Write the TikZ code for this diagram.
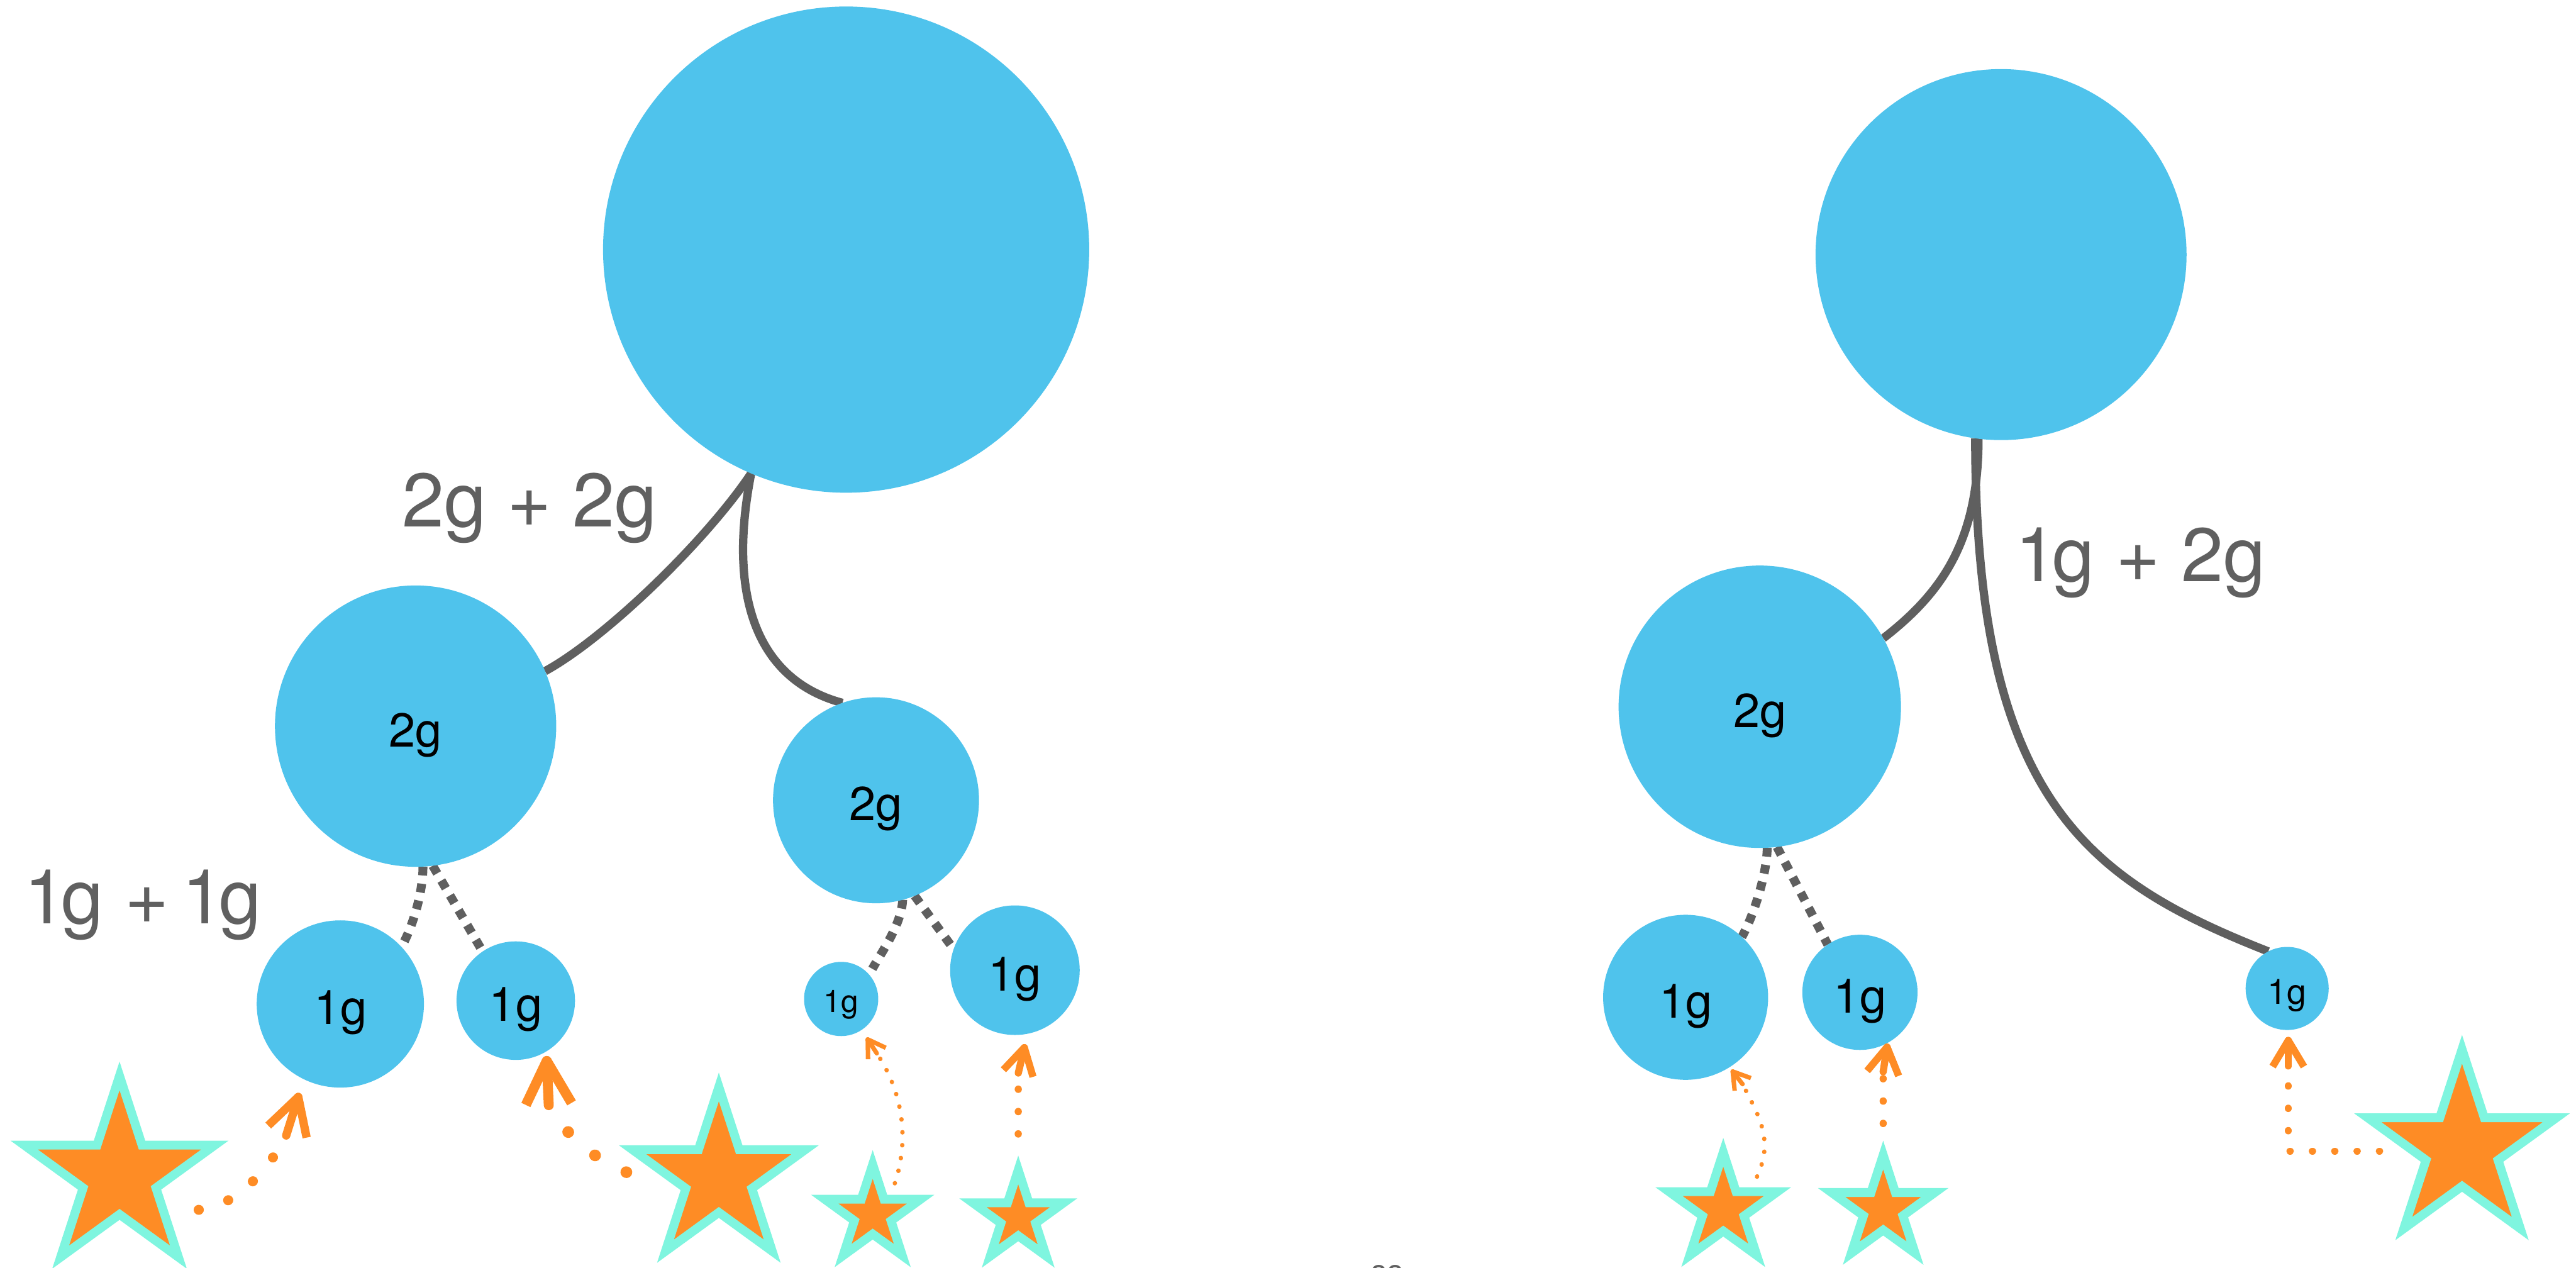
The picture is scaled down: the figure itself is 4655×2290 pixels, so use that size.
\documentclass[tikz,border=0pt]{standalone}
\usepackage{fontspec}
\setmainfont{TeX Gyre Heros}
\usetikzlibrary{shapes.geometric,calc,backgrounds}
\definecolor{ballblue}{HTML}{4FC3EC}
\definecolor{starfill}{HTML}{FE8C25}
\definecolor{starline}{HTML}{7FF5DF}
\definecolor{linegrey}{HTML}{5F5F5F}
\definecolor{labgrey}{HTML}{606060}
\pgfdeclarelayer{bg}
\pgfsetlayers{bg,background,main}
% #1 tip coordinate, #2 direction of travel (page angle, y down), #3 arm length,
% #4 half opening angle, #5 stem length, #6 line width
\newcommand\vtip[6]{%
  \draw[draw=starfill, line width=#6, line join=round, line cap=butt]
    ($(#1)+(#2+180-#4:#3)$) -- (#1) -- ($(#1)+(#2+180+#4:#3)$);
  \draw[draw=starfill, line width=#6, line cap=round] (#1) -- ($(#1)+(#2+180:#5)$);
}
\newcommand\oneg{1\kern-0.065em g}
\begin{document}
\begin{tikzpicture}[x=0.01cm,y=-0.01cm,
  ball/.style={circle, fill=ballblue, inner sep=0pt, outer sep=0pt, text=black,
    font=\fontsize{24.5pt}{29pt}\selectfont, text height=0.74cm, text depth=0pt},
  smallL/.style={ball, font=\fontsize{16pt}{19pt}\selectfont, text height=0.48cm},
  smallR/.style={ball, font=\fontsize{18pt}{21pt}\selectfont, text height=0.56cm},
  starsty/.style={star, star points=5, star point ratio=2.618, fill=starfill,
    draw=starline, line width=0.16cm, inner sep=0pt, outer sep=0pt},
  tree/.style={draw=linegrey, line width=0.15cm},
  treedot/.style={draw=linegrey, line width=0.16cm, dash pattern=on 0.16cm off 0.15cm},
  orangedots/.style 2 args={draw=starfill, line width=#1, line cap=round,
    dash pattern=on 0.1pt off #2},
  lbl/.style={text=labgrey, font=\fontsize{39pt}{47pt}\selectfont, inner sep=0pt, anchor=base}
]
\useasboundingbox (0,0) rectangle (4655,2290);
\begin{pgfonlayer}{bg}
  \fill[white] (0,0) rectangle (4655,2290);
\end{pgfonlayer}

% ---------- circles ----------
\node[ball, minimum size=8.78cm] (bigL) at (1529,451) {};
\node[ball, minimum size=5.08cm] (c2L) at (751,1312) {2g};
\node[ball, minimum size=3.72cm] (c2R) at (1583,1446) {2g};
\node[ball, minimum size=3.02cm] (c1a) at (615,1814) {1g};
\node[ball, minimum size=2.14cm] (c1b) at (932,1808) {1g};
\node[smallL, minimum size=1.34cm] (c1c) at (1520,1805) {1g};
\node[ball, minimum size=2.34cm] (c1d) at (1834,1753) {1g};
\node[ball, minimum size=6.70cm] (bigR) at (3616,460) {};
\node[ball, minimum size=5.10cm] (c2G) at (3180,1277) {2g};
\node[ball, minimum size=2.98cm] (c1e) at (3046,1802) {1g};
\node[ball, minimum size=2.08cm] (c1f) at (3361,1793) {1g};
\node[smallR, minimum size=1.50cm] (c1g) at (4133,1786) {1g};

% ---------- stars ----------
\node[starsty, minimum size=3.62cm] (s1) at (216,2125) {};
\node[starsty, minimum size=3.28cm] (s2) at (1299,2128) {};
\node[starsty, minimum size=1.82cm] (s3) at (1577,2195) {};
\node[starsty, minimum size=1.72cm] (s4) at (1840,2200) {};
\node[starsty, minimum size=2.06cm] (s5) at (3114,2185) {};
\node[starsty, minimum size=1.96cm] (s6) at (3403,2185) {};
\node[starsty, minimum size=3.58cm] (s7) at (4449,2075) {};

% ---------- labels ----------
\node[lbl] (l22) at (957,952) {2g + 2g};
\node[lbl] (l11) at (258,1669) {\oneg{} +\kern-0.11em{} \oneg};
\node[lbl] (l12) at (3868,1051) {\oneg{} + 2g};
\node[anchor=base, text=labgrey, font=\fontsize{15.6pt}{18pt}\selectfont, inner sep=0pt] (frag) at (2507,2316) {oo};

% ---------- grey tree connectors ----------
\begin{scope}[on background layer]
  \draw[tree] (bigL.247) .. controls +(-80,120) and +(110,-60) .. (c2L.23);
  \draw[tree] (bigL.247) .. controls +(-45,230) and +(-150,-40) .. (c2R.109);
  \draw[tree] (bigR.263) .. controls +(0,180) and +(110,-85) .. (c2G.29);
  \draw[tree] (bigR.262) .. controls +(0,650) and +(-330,-130) .. (c1g.117);

  \draw[treedot] (c2L.273) .. controls +(0,45) and +(22,-40) .. (c1a.43);
  \draw[treedot] (c2L.277) -- (c1b.124);
  \draw[treedot, shorten >=0.12cm] (c2R.285) .. controls +(-2,45) and +(22,-40) .. (c1c.41);
  \draw[treedot] (c2R.292) -- (c1d.161);
  \draw[treedot] (c2G.273) .. controls +(0,45) and +(22,-40) .. (c1e.47);
  \draw[treedot] (c2G.277) -- (c1f.124);
\end{scope}

% ---------- orange arrows: star -> circle ----------
\coordinate (t1) at ($(c1a)+(-76,168)$);
\coordinate (b1) at ($(t1)+(107.4:73)$);
\draw[orangedots={0.18cm}{0.56cm}] ($(s1)+(143,61)$) .. controls +(65,-5) and +(-32,63) .. (b1);
\vtip{t1}{287.4}{75}{29}{73}{0.15cm}

\coordinate (t2) at ($(c1b)+(56,109)$);
\coordinate (b2) at ($(t2)+(87.4:80)$);
\draw[orangedots={0.21cm}{0.64cm}] ($(s2)+(-167,-10)$) .. controls +(-50,-17) and +(25,50) .. (b2);
\vtip{t2}{267.4}{88}{28}{80}{0.18cm}

\coordinate (t3) at ($(c1c)+(48,73)$);
\coordinate (b3) at ($(t3)+(57:30)$);
\draw[orangedots={0.08cm}{0.23cm}] ($(s3)+(40,-57)$) .. controls +(25,-75) and +(50,75) .. (b3);
\vtip{t3}{237}{36}{32}{30}{0.08cm}

\coordinate (t4) at ($(c1d)+(17,140)$);
\coordinate (b4) at ($(t4)+(103.4:47)$);
\draw[orangedots={0.13cm}{0.40cm}] ($(s4)+(0,-151)$) -- (b4);
\vtip{t4}{283.4}{55}{30}{47}{0.13cm}

\coordinate (t5) at ($(c1e)+(85,134)$);
\coordinate (b5) at ($(t5)+(52:29)$);
\draw[orangedots={0.08cm}{0.23cm}] ($(s5)+(61,-59)$) .. controls +(30,-65) and +(32,62) .. (b5);
\vtip{t5}{232}{35}{32}{29}{0.08cm}

\coordinate (t6) at ($(c1f)+(49,99)$);
\coordinate (b6) at ($(t6)+(99:45)$);
\draw[orangedots={0.13cm}{0.40cm}] ($(s6)+(0,-155)$) -- (b6);
\vtip{t6}{279}{56}{31}{45}{0.13cm}

\coordinate (t7) at ($(c1g)+(2,94)$);
\coordinate (b7) at ($(t7)+(90:46)$);
\draw[orangedots={0.13cm}{0.40cm}] ($(s7)+(-149,5)$) -| (b7);
\vtip{t7}{270}{55}{31}{46}{0.13cm}
\end{tikzpicture}
\end{document}
